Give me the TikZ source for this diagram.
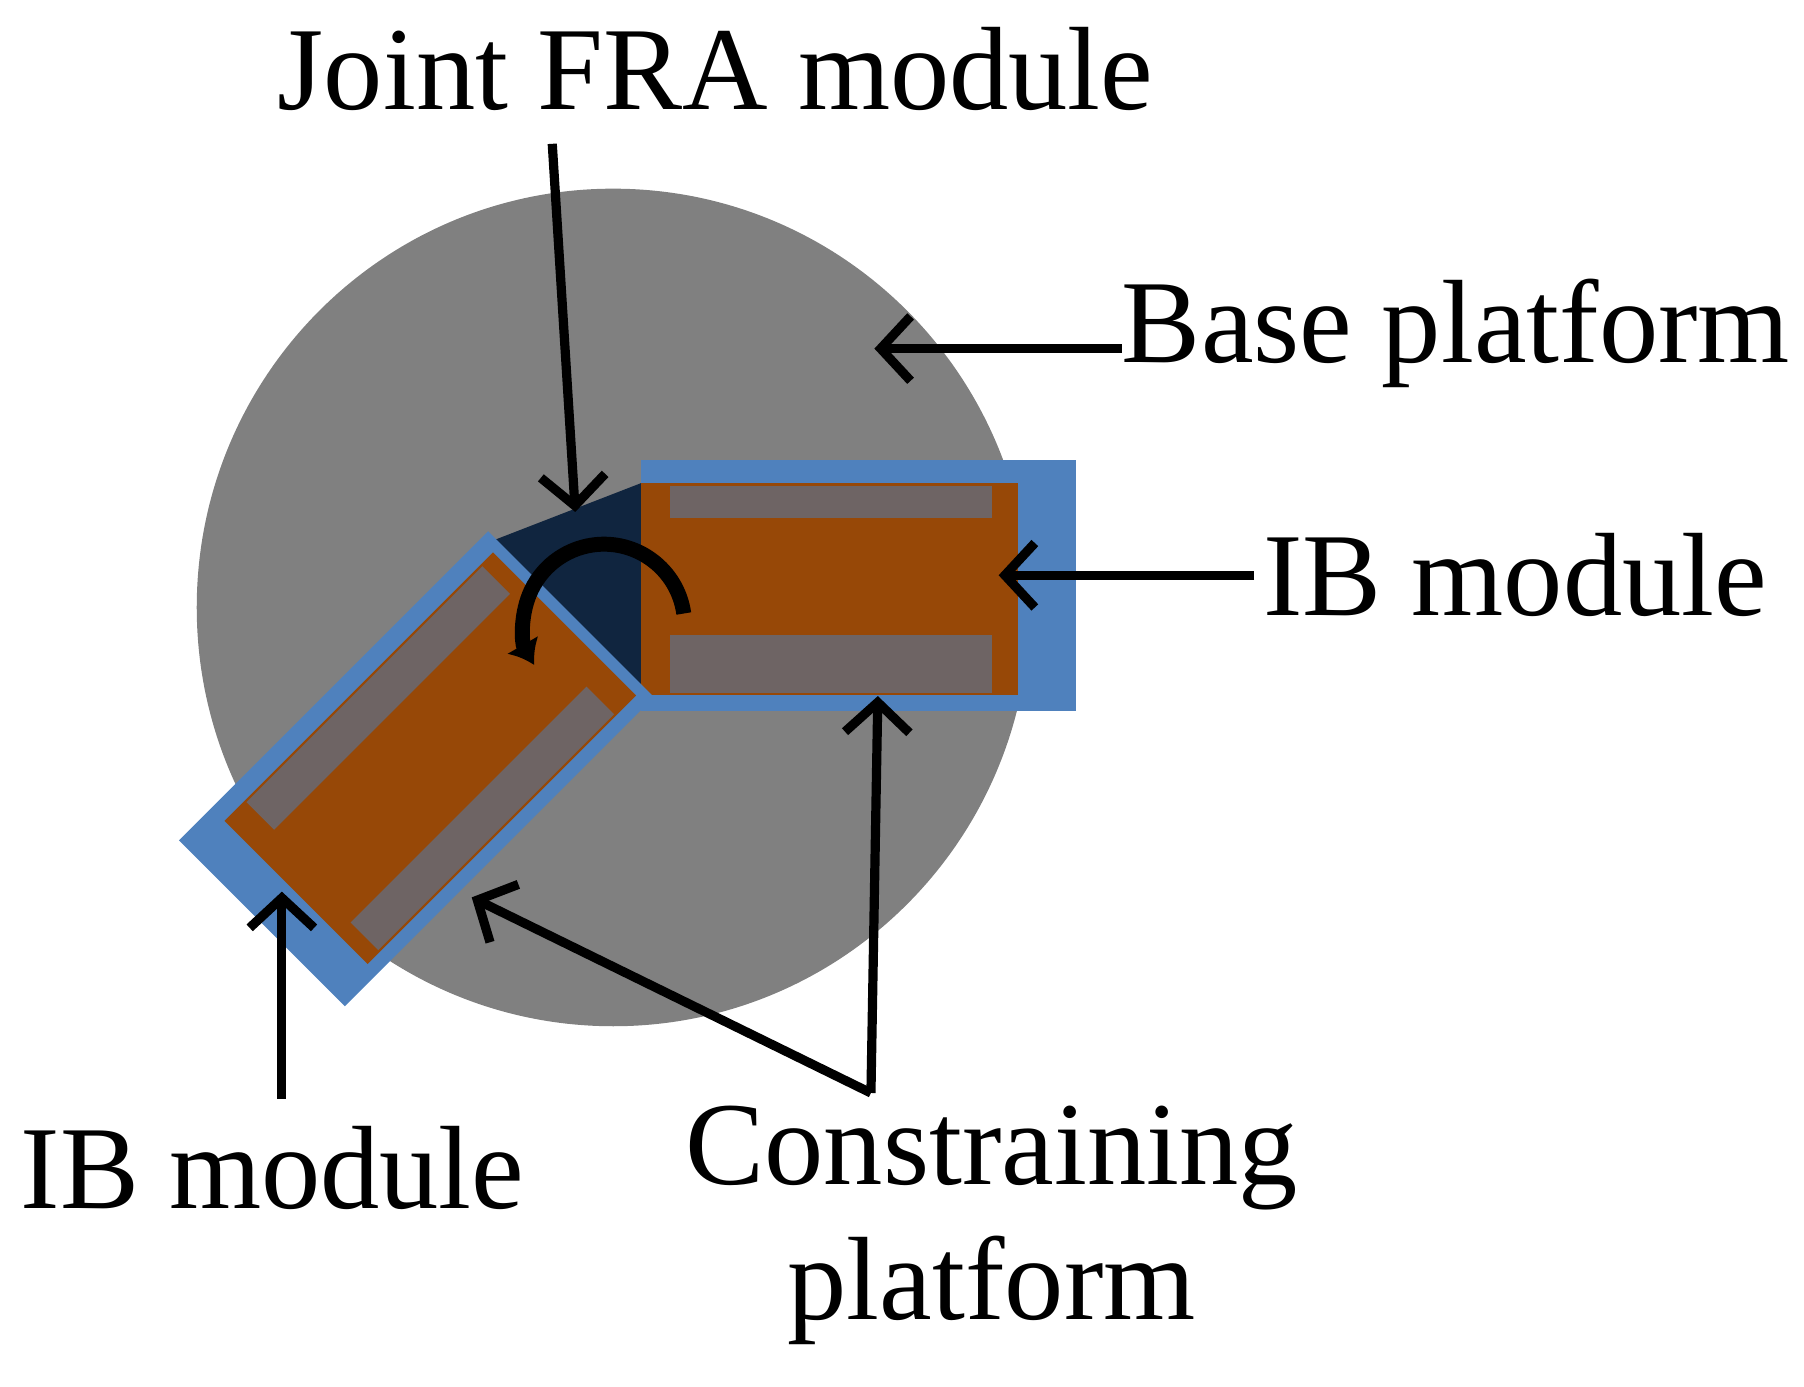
\documentclass[tikz,border=0pt]{standalone}
\usepackage{fontspec}
\setmainfont{Liberation Serif}
\usetikzlibrary{arrows.meta,calc}
\definecolor{blu}{RGB}{79,129,189}
\definecolor{org}{RGB}{151,72,7}
\definecolor{gbar}{RGB}{110,100,100}
\definecolor{navy}{RGB}{16,37,63}
\begin{document}
\begin{tikzpicture}[x=1pt,y=1pt,
  lab/.style={font=\fontsize{103}{118}\selectfont,inner sep=0},
  arr/.style={line width=8pt,-{Straight Barb[length=26pt,width=56pt,line width=8pt]}}]
\useasboundingbox (0,0) rectangle (1568,1205);
\fill[black!50] (533,677) ellipse [x radius=362,y radius=364];
% right module
\fill[blu] (557,805) rectangle (935,587);
\fill[org] (557,785) rectangle (885,601);
\fill[gbar] (582,783) rectangle (862,755);
\fill[gbar] (582,653) rectangle (862,603);
% joint
\fill[navy] (428,735) -- (557,785) -- (557,601) -- (550,605) -- cycle;
% left module
\begin{scope}[shift={(374,546)},rotate=45]
\fill[blu] (-205,-100) rectangle (175,104);
\fill[org] (-165,-88) rectangle (165,88);
\fill[gbar] (-140,52) rectangle (150,86);
\fill[gbar] (-150,-86) rectangle (140,-52);
\end{scope}
% rotation arrow
\coordinate (rc) at (525,662);
\draw[line width=13pt,-{Latex[length=20pt,width=32pt]}] ($(rc)+(8:70)$) arc[start angle=8,end angle=210,radius=70];
% labels
\node[lab] (jfra) at (622,1145) {Joint FRA module};
\node[lab,anchor=west] (base) at (975,915) {Base platform};
\node[lab,anchor=west] (ibr) at (1098,705) {IB module};
\node[lab] (ibl) at (237,190) {IB module};
\node[lab,align=center] (cp) at (862,140) {Constraining\\platform};
\coordinate (a1) at (480,1080); \coordinate (b1) at (500,760);
\coordinate (a2) at (975,902); \coordinate (b2) at (760,902);
\coordinate (a3) at (1090,705); \coordinate (b3) at (868,705);
\coordinate (a4) at (245,250); \coordinate (b4) at (245,430);
\coordinate (a5) at (757,255); \coordinate (b5) at (763,600); \coordinate (b6) at (410,425);
\draw[arr] (a1) -- (b1);
\draw[arr] (a2) -- (b2);
\draw[arr] (a3) -- (b3);
\draw[arr] (a4) -- (b4);
\draw[arr] (a5) -- (b5);
\draw[arr] (a5) -- (b6);
\end{tikzpicture}
\end{document}
